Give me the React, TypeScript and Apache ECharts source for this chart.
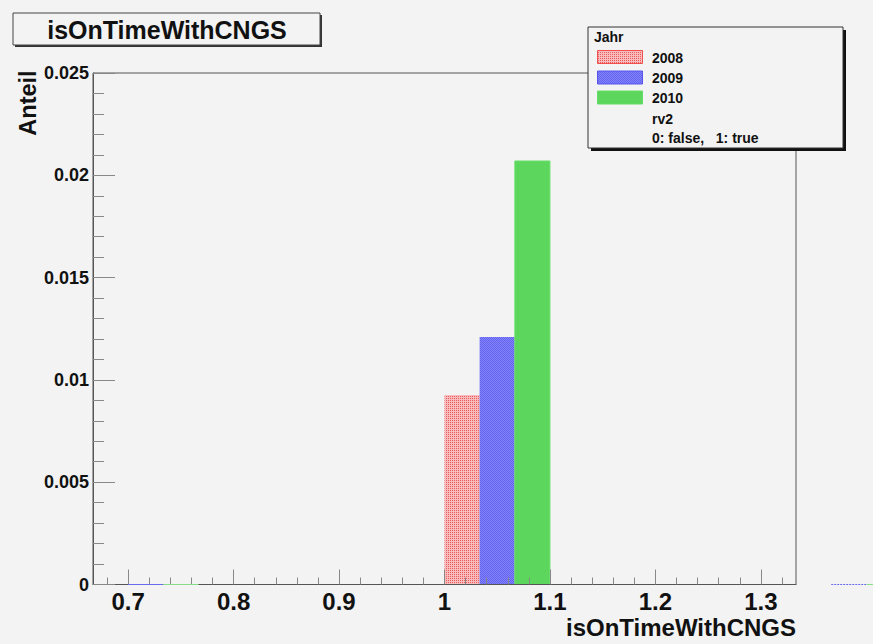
import React, { useEffect, useRef } from "react";
import * as echarts from "echarts";

// Histogram bins per year: lower edge, upper edge, fraction ("Anteil")
const years = ["2008", "2009", "2010"];
const lo2008 = [1.0];
const hi2008 = [1.0333];
const val2008 = [0.00926];
const lo2009 = [0.7, 1.0333, 1.3667];
const hi2009 = [0.7333, 1.0667, 1.4];
const val2009 = [0, 0.0121, 0];
const lo2010 = [0.7333, 1.0667, 1.4];
const hi2010 = [0.7667, 1.1, 1.4333];
const val2010 = [0, 0.0207, 0];

// Axis ticks
const xMajorTicks = [0.7, 0.8, 0.9, 1.0, 1.1, 1.2, 1.3];
const xMinorTicks = [
  0.68, 0.72, 0.74, 0.76, 0.78, 0.82, 0.84, 0.86, 0.88, 0.92, 0.94, 0.96, 0.98,
  1.02, 1.04, 1.06, 1.08, 1.12, 1.14, 1.16, 1.18, 1.22, 1.24, 1.26, 1.28, 1.32,
];
const xMin = 0.6667;
const xMax = 1.3333;
const yMin = 0;
const yMax = 0.025;
const yStep = 0.005;

const FONT = "'Liberation Sans', Arial, Helvetica, sans-serif";
const BG = "#f3f3f3";

function makePattern(base: string, dot: string, kind: "stripe" | "checker") {
  const c = document.createElement("canvas");
  c.width = 4;
  c.height = 4;
  const ctx = c.getContext("2d")!;
  ctx.fillStyle = base;
  ctx.fillRect(0, 0, 4, 4);
  ctx.fillStyle = dot;
  for (let y = 0; y < 4; y++) {
    for (let x = 0; x < 4; x++) {
      const on = kind === "stripe" ? x % 2 === 0 && y % 2 === 0 : (x + y) % 2 === 0;
      if (on) ctx.fillRect(x, y, 1, 1);
    }
  }
  return c;
}

export default function App() {
  const ref = useRef<HTMLDivElement>(null);

  useEffect(() => {
    if (!ref.current) return;
    const chart = echarts.init(ref.current, null, { renderer: "svg" });

    const redPat = { image: makePattern("#f9bcbc", "#ec5a5a", "stripe"), repeat: "repeat" };
    const bluePat = { image: makePattern("#8585fb", "#6262ef", "checker"), repeat: "repeat" };
    const fills: any[] = [redPat, bluePat, "#5cd65c"];
    const strokes = ["#f05050", "#5555ee", "#66dd66"];
    const zeroStrokes = ["#f05050", "#6a6aee", "#88dd88"];

    const mk = (lo: number[], hi: number[], v: number[]) =>
      lo.map((l, i) => [l, hi[i], v[i]]);
    const seriesData = [mk(lo2008, hi2008, val2008), mk(lo2009, hi2009, val2009), mk(lo2010, hi2010, val2010)];

    // Filled bins sit below the axes (ticks show through); empty bins are
    // drawn as lines on top of the axis line.
    const makeSeries = (si: number, empty: boolean) => ({
      type: "custom",
      name: years[si],
      clip: false,
      z: empty ? 8 : 2,
      encode: { x: [0, 1], y: 2 },
      data: seriesData[si],
      renderItem: (params: any, api: any) => {
        const l = api.value(0);
        const h = api.value(1);
        const v = api.value(2);
        const p0 = api.coord([l, v]);
        const p1 = api.coord([h, 0]);
        if (v === 0) {
          if (!empty) return null;
          return {
            type: "line",
            shape: { x1: p0[0], y1: p1[1], x2: p1[0], y2: p1[1] },
            style: {
              stroke: zeroStrokes[si],
              lineWidth: 1,
              lineDash: p0[0] > 800 && si === 1 ? [2, 1] : null,
            },
          };
        }
        if (empty) return null;
        return {
          type: "rect",
          shape: { x: p0[0], y: p0[1], width: p1[0] - p0[0], height: p1[1] - p0[1] },
          style: { fill: fills[si], stroke: si === 2 ? "#6ee06e" : null, lineWidth: si === 2 ? 1 : 0 },
        };
      },
    });
    const series = [0, 1, 2].flatMap((si) => [makeSeries(si, false), makeSeries(si, true)]);

    const legendRows = [
      { y: 50.5, label: "2008", fill: redPat, stroke: strokes[0] },
      { y: 71, label: "2009", fill: bluePat, stroke: strokes[1] },
      { y: 91, label: "2010", fill: "#5cd65c", stroke: strokes[2] },
    ];

    chart.setOption({
      animation: false,
      backgroundColor: BG,
      grid: {
        left: 93,
        top: 73,
        right: 77,
        bottom: 59.5,
        show: true,
        borderColor: "#555",
        borderWidth: 1,
        backgroundColor: BG,
        containLabel: false,
      },
      xAxis: [
        {
          type: "value",
          min: xMin,
          max: xMax,
          position: "bottom",
          z: 5,
          splitLine: { show: false },
          axisLine: { show: true, onZero: false, lineStyle: { color: "#555", width: 1 } },
          axisTick: {
            show: true,
            inside: true,
            length: 15,
            customValues: xMajorTicks,
            lineStyle: { color: "#888" },
          },
          axisLabel: {
            show: true,
            customValues: xMajorTicks,
            margin: 5,
            fontFamily: FONT,
            fontWeight: "bold",
            fontSize: 24,
            color: "#111",
            formatter: (v: number) => String(Math.round(v * 10) / 10),
          },
        },
        {
          type: "value",
          min: xMin,
          max: xMax,
          position: "bottom",
          offset: 0,
          z: 5,
          splitLine: { show: false },
          axisLine: { show: false },
          axisLabel: { show: false },
          axisTick: {
            show: true,
            inside: true,
            length: 7,
            customValues: xMinorTicks,
            lineStyle: { color: "#888" },
          },
        },
      ],
      yAxis: {
        type: "value",
        min: yMin,
        max: yMax,
        interval: yStep,
        z: 5,
        splitLine: { show: false },
        axisLine: { show: true, lineStyle: { color: "#555", width: 1 } },
        axisTick: { show: true, inside: true, length: 22, lineStyle: { color: "#888" } },
        minorTick: { show: true, splitNumber: 5, length: 11, lineStyle: { color: "#888" } },
        axisLabel: {
          margin: 4,
          fontFamily: FONT,
          fontWeight: "bold",
          fontSize: 18,
          color: "#111",
        },
      },
      series,
      graphic: [
        // title box with shadow
        { type: "rect", shape: { x: 15, y: 15, width: 307, height: 32 }, style: { fill: "#333" }, z: 10 },
        {
          type: "rect",
          shape: { x: 13, y: 13, width: 307, height: 32 },
          style: { fill: BG, stroke: "#444", lineWidth: 1 },
          z: 11,
        },
        {
          type: "text",
          x: 167,
          y: 30,
          z: 12,
          style: {
            text: "isOnTimeWithCNGS",
            font: `bold 25px ${FONT}`,
            fill: "#111",
            align: "center",
            verticalAlign: "middle",
          },
        },
        // y axis title
        {
          type: "text",
          x: 28,
          y: 103,
          rotation: Math.PI / 2,
          z: 12,
          style: {
            text: "Anteil",
            font: `bold 23.5px ${FONT}`,
            fill: "#111",
            align: "center",
            verticalAlign: "middle",
          },
        },
        // x axis title
        {
          type: "text",
          x: 796,
          y: 627,
          z: 12,
          style: {
            text: "isOnTimeWithCNGS",
            font: `bold 24px ${FONT}`,
            fill: "#111",
            align: "right",
            verticalAlign: "middle",
          },
        },
        // legend box with shadow
        { type: "rect", shape: { x: 591, y: 30, width: 255, height: 121 }, style: { fill: "#111" }, z: 20 },
        {
          type: "rect",
          shape: { x: 588, y: 27, width: 255, height: 121 },
          style: { fill: BG, stroke: "#333", lineWidth: 1 },
          z: 21,
        },
        {
          type: "text",
          x: 594,
          y: 37,
          z: 22,
          style: { text: "Jahr", font: `bold 14px ${FONT}`, fill: "#111", verticalAlign: "middle" },
        },
        ...legendRows.flatMap((r) => [
          {
            type: "rect",
            z: 22,
            shape: { x: 597.5, y: r.y, width: 45, height: 13 },
            style: { fill: r.fill, stroke: r.stroke, lineWidth: 1 },
          },
          {
            type: "text",
            x: 652,
            y: r.y + 7,
            z: 22,
            style: { text: r.label, font: `bold 14px ${FONT}`, fill: "#111", verticalAlign: "middle" },
          },
        ]),
        {
          type: "text",
          x: 652,
          y: 119,
          z: 22,
          style: { text: "rv2", font: `bold 14px ${FONT}`, fill: "#111", verticalAlign: "middle" },
        },
        {
          type: "text",
          x: 652,
          y: 138,
          z: 22,
          style: {
            text: "0: false,   1: true",
            font: `bold 14px ${FONT}`,
            fill: "#111",
            verticalAlign: "middle",
          },
        },
      ],
    });

    return () => chart.dispose();
  }, []);

  return (
    <div
      ref={ref}
      style={{ position: "fixed", left: 0, top: 0, width: 873, height: 644, background: BG }}
    />
  );
}
